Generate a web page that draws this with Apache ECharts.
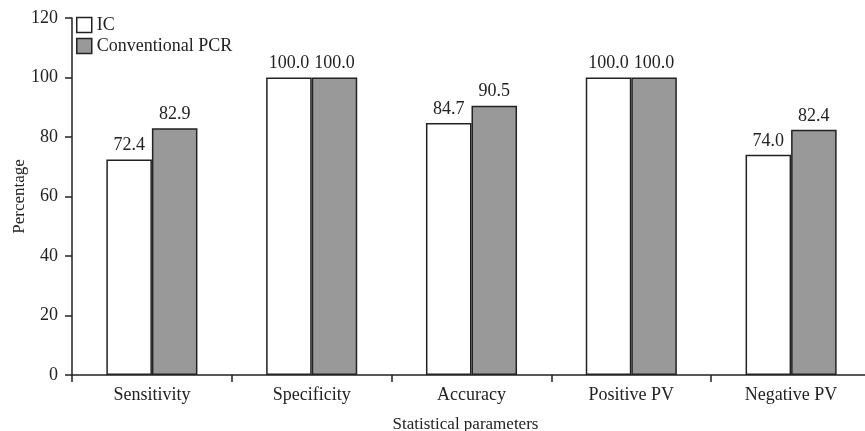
<!DOCTYPE html>
<html>
<head>
<meta charset="utf-8">
<script src="https://cdn.jsdelivr.net/npm/echarts@6/dist/echarts.min.js"></script>
<style>html,body{margin:0;padding:0;background:#fff}#c{width:865px;height:431px}</style>
</head>
<body>
<div id="c"></div>
<script>
var categories = ['Sensitivity', 'Specificity', 'Accuracy', 'Positive PV', 'Negative PV'];
var icValues = [72.4, 100.0, 84.7, 100.0, 74.0];
var pcrValues = [82.9, 100.0, 90.5, 100.0, 82.4];
var seriesNames = ['IC', 'Conventional PCR'];
var yTicks = [0, 20, 40, 60, 80, 100, 120];

var font = 'Liberation Serif, Times New Roman, serif';
var chart = echarts.init(document.getElementById('c'));
var labelOpt = {
  show: true, position: 'top', distance: 5,
  fontFamily: font, fontSize: 18, color: '#222',
  formatter: function (p) { return p.value.toFixed(1); }
};
chart.setOption({
  animation: false,
  backgroundColor: '#fff',
  grid: { left: 72, right: -6, top: 18, bottom: 56, containLabel: false, outerBoundsMode: 'none' },
  legend: {
    orient: 'vertical', left: 76, top: 16, padding: 0,
    icon: 'rect',
    itemWidth: 15, itemHeight: 15, itemGap: 3,
    data: seriesNames,
    textStyle: { fontFamily: font, fontSize: 18, color: '#222', padding: [0, 0, 0, 0] },
    itemStyle: { borderColor: '#222', borderWidth: 1.5 }
  },
  xAxis: {
    type: 'category', data: categories,
    name: 'Statistical parameters', nameLocation: 'middle', nameGap: 41,
    nameMoveOverlap: false,
    nameTextStyle: { fontFamily: font, fontSize: 17, color: '#222', padding: [0, 12, 0, 0] },
    axisLine: { lineStyle: { color: '#222', width: 1.5 } },
    axisTick: { show: true, length: 7, lineStyle: { color: '#222', width: 1.5 } },
    axisLabel: { fontFamily: font, fontSize: 18, color: '#222', margin: 11 }
  },
  yAxis: {
    type: 'value', min: yTicks[0], max: yTicks[yTicks.length - 1], interval: 20,
    name: 'Percentage', nameLocation: 'middle', nameGap: 44,
    nameMoveOverlap: false,
    nameTextStyle: { fontFamily: font, fontSize: 17, color: '#222' },
    axisLine: { show: true, lineStyle: { color: '#222', width: 1.5 } },
    axisTick: { show: true, length: 7, lineStyle: { color: '#222', width: 1.5 } },
    axisLabel: { fontFamily: font, fontSize: 18, color: '#222', margin: 14 },
    splitLine: { show: false }
  },
  series: [
    {
      name: seriesNames[0], type: 'bar', data: icValues,
      barGap: '0%', barCategoryGap: '43%',
      itemStyle: { color: '#ffffff', borderColor: '#222', borderWidth: 1.5 },
      label: labelOpt
    },
    {
      name: seriesNames[1], type: 'bar', data: pcrValues,
      barGap: '0%', barCategoryGap: '43%',
      itemStyle: { color: '#999999', borderColor: '#222', borderWidth: 1.5 },
      label: labelOpt
    }
  ]
});
</script>
</body>
</html>
